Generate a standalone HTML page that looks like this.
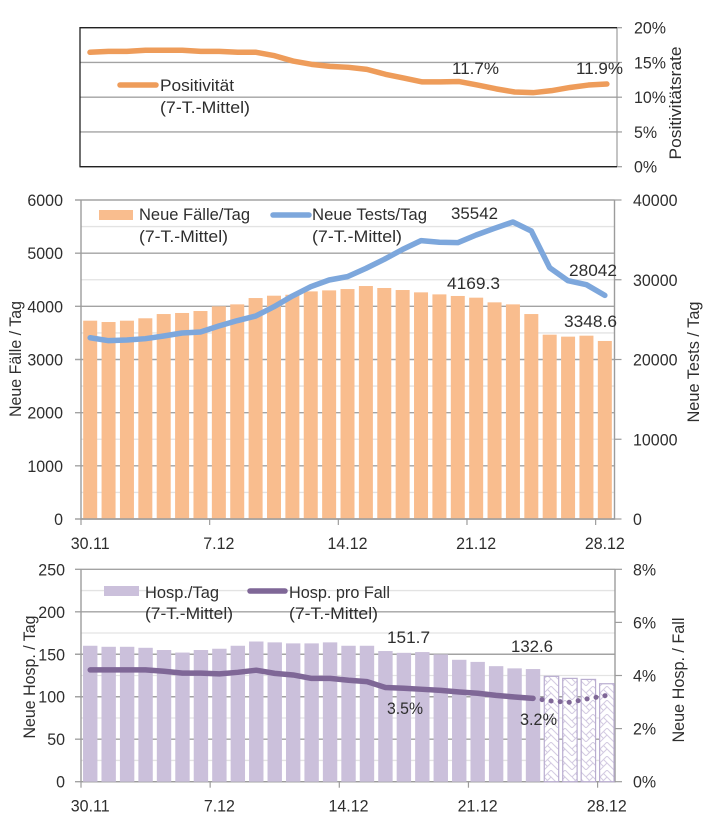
<!DOCTYPE html>
<html lang="de">
<head>
<meta charset="utf-8">
<title>Neue Fälle, Tests und Hospitalisierungen</title>
<style>
html,body{margin:0;padding:0;background:#fff;width:709px;height:833px;overflow:hidden}
#figure{display:block;filter:blur(0.35px)}
text{font-family:"Liberation Sans",sans-serif;font-size:17px;fill:#2e2e2e}
</style>
</head>
<body>
<svg id="figure" xmlns="http://www.w3.org/2000/svg" width="709" height="833" viewBox="0 0 709 833">
  <defs>
    <pattern id="hatch" patternUnits="userSpaceOnUse" x="544" y="672" width="14" height="14">
      <rect width="14" height="14" fill="#fff"/>
      <path d="M0 7L7 0L14 7M0 14L7 7L14 14M3.5 3.5L10.5 10.5M-3.5 3.5L3.5 10.5" fill="none" stroke="#d3cbe2" stroke-width="1"/>
    </pattern>
  </defs>
  <g id="top-chart"></g>
  <g id="mid-chart"></g>
  <g id="bot-chart"></g>

  <g id="annotations">
    <!-- top chart -->
    <text transform="translate(681 103) rotate(-90)" text-anchor="middle" textLength="113" lengthAdjust="spacingAndGlyphs">Positivitätsrate</text>
    <line x1="120" y1="85" x2="156" y2="85" stroke="#EE9C5A" stroke-width="5.5" stroke-linecap="round"/>
    <text x="160" y="91" textLength="74" lengthAdjust="spacingAndGlyphs">Positivität</text>
    <text x="160" y="113" textLength="90" lengthAdjust="spacingAndGlyphs">(7-T.-Mittel)</text>
    <text x="452" y="74" textLength="47" lengthAdjust="spacingAndGlyphs">11.7%</text>
    <text x="576" y="74" textLength="47" lengthAdjust="spacingAndGlyphs">11.9%</text>

    <!-- middle chart -->
    <text transform="translate(21 359) rotate(-90)" text-anchor="middle" textLength="116" lengthAdjust="spacingAndGlyphs">Neue Fälle / Tag</text>
    <text transform="translate(699 362) rotate(-90)" text-anchor="middle" textLength="121" lengthAdjust="spacingAndGlyphs">Neue Tests / Tag</text>
    <rect x="99" y="210" width="34" height="10" fill="#F9BD8E"/>
    <text x="139" y="220" textLength="111" lengthAdjust="spacingAndGlyphs">Neue Fälle/Tag</text>
    <text x="139" y="242" textLength="89" lengthAdjust="spacingAndGlyphs">(7-T.-Mittel)</text>
    <line x1="273" y1="215" x2="309" y2="215" stroke="#7DA7DC" stroke-width="5.5" stroke-linecap="round"/>
    <text x="312" y="220" textLength="115" lengthAdjust="spacingAndGlyphs">Neue Tests/Tag</text>
    <text x="312" y="242" textLength="90" lengthAdjust="spacingAndGlyphs">(7-T.-Mittel)</text>
    <text x="451" y="219" textLength="47" lengthAdjust="spacingAndGlyphs">35542</text>
    <text x="447" y="289" textLength="53" lengthAdjust="spacingAndGlyphs">4169.3</text>
    <text x="569" y="276" textLength="48" lengthAdjust="spacingAndGlyphs">28042</text>
    <text x="564" y="327" textLength="53" lengthAdjust="spacingAndGlyphs">3348.6</text>

    <!-- bottom chart -->
    <text transform="translate(35 677) rotate(-90)" text-anchor="middle" textLength="123" lengthAdjust="spacingAndGlyphs">Neue Hosp. / Tag</text>
    <text transform="translate(684 680) rotate(-90)" text-anchor="middle" textLength="125" lengthAdjust="spacingAndGlyphs">Neue Hosp. / Fall</text>
    <rect x="104" y="586" width="35" height="10" fill="#CBC0DB"/>
    <text x="145" y="598" textLength="74" lengthAdjust="spacingAndGlyphs">Hosp./Tag</text>
    <text x="145" y="619" textLength="88" lengthAdjust="spacingAndGlyphs">(7-T.-Mittel)</text>
    <line x1="250" y1="591" x2="285" y2="591" stroke="#7F6797" stroke-width="5.5" stroke-linecap="round"/>
    <text x="289" y="598" textLength="101" lengthAdjust="spacingAndGlyphs">Hosp. pro Fall</text>
    <text x="289" y="619" textLength="89" lengthAdjust="spacingAndGlyphs">(7-T.-Mittel)</text>
    <text x="387" y="643" textLength="43" lengthAdjust="spacingAndGlyphs">151.7</text>
    <text x="511" y="652" textLength="42" lengthAdjust="spacingAndGlyphs">132.6</text>
    <text x="387" y="714" textLength="36" lengthAdjust="spacingAndGlyphs">3.5%</text>
    <text x="520" y="725" textLength="37" lengthAdjust="spacingAndGlyphs">3.2%</text>
  </g>
</svg>
<script>
// ---- data ----
const dates = ['30.11','1.12','2.12','3.12','4.12','5.12','6.12','7.12','8.12','9.12','10.12','11.12','12.12','13.12','14.12','15.12','16.12','17.12','18.12','19.12','20.12','21.12','22.12','23.12','24.12','25.12','26.12','27.12','28.12'];
const dateTicks = ['30.11','7.12','14.12','21.12','28.12'];

const positivity = [16.46,16.6,16.6,16.75,16.75,16.75,16.6,16.6,16.46,16.46,15.97,15.2,14.73,14.44,14.3,14.0,13.3,12.76,12.2,12.2,12.25,11.75,11.2,10.75,10.65,10.94,11.4,11.75,11.9];
const positivityTicks = [0,5,10,15,20];

const cases = [3730,3705,3730,3775,3855,3875,3912,4000,4037,4156,4200,4218,4281,4300,4325,4382,4345,4307,4263,4225,4195,4163,4075,4037,3855,3467,3430,3448,3348.6];
const tests = [22730,22360,22440,22610,22950,23320,23450,24200,24870,25450,26620,27960,29130,29970,30390,31430,32560,33810,34900,34700,34650,35610,36450,37240,36110,31510,29880,29380,28042];
const casesTicks = [0,1000,2000,3000,4000,5000,6000];
const casesMinorTicks = [500,1500,2500,3500,4500,5500];
const testsTicks = [0,10000,20000,30000,40000];

const hospitalisations = [160,158.8,158.8,157.6,155,152,155,156.5,160,165,164,162.8,162.8,164,160,160,153.8,151.7,152.6,149.8,143.5,141,136,133.4,132.6,124,121.6,120.4,115.3];
const hospRate = [4.21,4.21,4.21,4.21,4.16,4.09,4.09,4.06,4.12,4.2,4.08,4.02,3.89,3.89,3.82,3.77,3.55,3.52,3.48,3.44,3.38,3.33,3.25,3.19,3.14,3.04,2.99,3.13,3.25];
const hospTicks = [0,50,100,150,200,250];
const hospMinorTicks = [25,75,125,175,225];
const rateTicks = [0,2,4,6,8];
const provisionalFrom = 25;

// ---- helpers ----
const NS = 'http://www.w3.org/2000/svg';
function mk(tag, attrs, parent) {
  const el = document.createElementNS(NS, tag);
  for (const k in attrs) el.setAttribute(k, attrs[k]);
  parent.appendChild(el);
  return el;
}
function linear(d0, d1, r0, r1) {
  return v => r0 + (v - d0) / (d1 - d0) * (r1 - r0);
}
function linePath(values, x, y, from, to) {
  let d = '';
  for (let i = from; i <= to; i++) d += (i === from ? 'M' : 'L') + x(i).toFixed(2) + ' ' + y(values[i]).toFixed(2);
  return d;
}
const GRID = '#a3a3a3', MINOR = '#e3e3e3', AXIS = '#9c9c9c';

// ---- top chart ----
(function () {
  const g = document.getElementById('top-chart');
  const L = 80, R = 617, T = 27.7, B = 166.7;
  const x = i => 90 + i * 18.46;
  const y = linear(0, 20, B, T);
  positivityTicks.forEach(t => {
    const gl = mk('line', {x1: L, x2: R, y1: y(t), y2: y(t), stroke: GRID, 'stroke-width': 1.4}, g);
    
    
    const tk = mk('line', {x1: R, x2: R + 5, y1: y(t), y2: y(t), stroke: AXIS, 'stroke-width': 1.2}, g);
    
    
    const lb = mk('text', {x: 634, y: y(t) + 6}, g);
    lb.textContent = t + '%';
    
    
  });
  const ra = mk('line', {x1: R, x2: R, y1: T, y2: B, stroke: AXIS, 'stroke-width': 1.2}, g);
  
  
  const frame = mk('path', {d: `M${R} ${T}H${L}V${B}H${R}`, fill: 'none', stroke: '#222', 'stroke-width': 1.3}, g);
  
  
  const ln = mk('path', {d: linePath(positivity, x, y, 0, positivity.length - 1), fill: 'none', stroke: '#EE9C5A', 'stroke-width': 5.5, 'stroke-linecap': 'round', 'stroke-linejoin': 'round'}, g);
  
  
})();

// ---- shared x axis ----
function drawXAxis(g, L, B, band, name) {
  dateTicks.forEach(t => {
    const i = dates.indexOf(t);
    const tx = L + i * band;
    const tk = mk('line', {x1: tx, x2: tx, y1: B, y2: B + 6, stroke: AXIS, 'stroke-width': 1.2}, g);
    
    
    const lb = mk('text', {x: tx + band / 2, y: B + 30, 'text-anchor': 'middle'}, g);
    lb.textContent = t;
    
    
  });
}

// ---- middle chart ----
(function () {
  const g = document.getElementById('mid-chart');
  const L = 81, R = 614.5, T = 200, B = 519;
  const band = 18.38;
  const xc = i => L + band * (i + 0.5);
  const yL = linear(0, 6000, B, T);
  const yR = linear(0, 40000, B, T);
  casesMinorTicks.forEach(t => {
    const gl = mk('line', {x1: L, x2: R, y1: yL(t), y2: yL(t), stroke: MINOR, 'stroke-width': 1.3}, g);
    
    
  });
  casesTicks.forEach(t => {
    const gl = mk('line', {x1: L - 6, x2: R, y1: yL(t), y2: yL(t), stroke: GRID, 'stroke-width': 1.4}, g);
    
    
    const lb = mk('text', {x: 63, y: yL(t) + 6, 'text-anchor': 'end'}, g);
    lb.textContent = t;
    
    
  });
  testsTicks.forEach(t => {
    const tk = mk('line', {x1: R, x2: R + 7, y1: yR(t), y2: yR(t), stroke: AXIS, 'stroke-width': 1.2}, g);
    
    
    const lb = mk('text', {x: 633, y: yR(t) + 6}, g);
    lb.textContent = t;
    
    
  });
  cases.forEach((v, i) => {
    const bar = mk('rect', {x: xc(i) - 7, y: yL(v), width: 14, height: B - yL(v), fill: '#F9BD8E'}, g);
    
    
  });
  const axes = mk('path', {d: `M${L} ${T}V${B}H${R}V${T}`, fill: 'none', stroke: AXIS, 'stroke-width': 1.4}, g);
  
  
  drawXAxis(g, L, B, band, 'cases');
  const ln = mk('path', {d: linePath(tests, xc, yR, 0, tests.length - 1), fill: 'none', stroke: '#7DA7DC', 'stroke-width': 5.5, 'stroke-linecap': 'round', 'stroke-linejoin': 'round'}, g);
  
  
})();

// ---- bottom chart ----
(function () {
  const g = document.getElementById('bot-chart');
  const L = 81, R = 615, T = 569.3, B = 781.7;
  const band = 18.45;
  const xc = i => L + band * (i + 0.5);
  const yL = linear(0, 250, B, T);
  const yR = linear(0, 8, B, T);
  hospMinorTicks.forEach(t => {
    const gl = mk('line', {x1: L, x2: R, y1: yL(t), y2: yL(t), stroke: MINOR, 'stroke-width': 1.3}, g);
    
    
  });
  hospTicks.forEach(t => {
    const gl = mk('line', {x1: L - 6, x2: R, y1: yL(t), y2: yL(t), stroke: GRID, 'stroke-width': 1.4}, g);
    
    
    const lb = mk('text', {x: 65, y: yL(t) + 6, 'text-anchor': 'end'}, g);
    lb.textContent = t;
    
    
  });
  rateTicks.forEach(t => {
    const tk = mk('line', {x1: R, x2: R + 7, y1: yR(t), y2: yR(t), stroke: AXIS, 'stroke-width': 1.2}, g);
    
    
    const lb = mk('text', {x: 633, y: yR(t) + 6}, g);
    lb.textContent = t + '%';
    
    
  });
  const axes = mk('path', {d: `M${L} ${T}V${B}H${R}V${T}`, fill: 'none', stroke: AXIS, 'stroke-width': 1.4}, g);
  
  
  hospitalisations.forEach((v, i) => {
    const prov = i >= provisionalFrom;
    const bar = mk('rect', {
      x: xc(i) - 7.2, y: yL(v), width: 14.4, height: B - yL(v),
      fill: prov ? 'url(#hatch)' : '#CBC0DB',
      stroke: prov ? '#b9add0' : 'none',
      'stroke-width': prov ? 1.2 : 0
    }, g);
    
    
  });
  drawXAxis(g, L, B, band, 'hosp');
  const solid = mk('path', {d: linePath(hospRate, xc, yR, 0, provisionalFrom - 1), fill: 'none', stroke: '#7F6797', 'stroke-width': 5.5, 'stroke-linecap': 'round', 'stroke-linejoin': 'round'}, g);
  
  
  const dotted = mk('path', {d: linePath(hospRate, xc, yR, provisionalFrom - 1, hospRate.length - 1), fill: 'none', stroke: '#7F6797', 'stroke-width': 5, 'stroke-linecap': 'round', 'stroke-dasharray': '0.1 9'}, g);
  
  
})();

// keep static labels above the marks
const figure = document.getElementById('figure');
figure.appendChild(document.getElementById('annotations'));

// tick labels: taller glyphs at the narrower width of the original typeface
figure.querySelectorAll('text:not([textLength])').forEach(t => {
  const w = t.getComputedTextLength() * 16 / 17;
  t.setAttribute('textLength', w.toFixed(1));
  t.setAttribute('lengthAdjust', 'spacingAndGlyphs');
});
</script>
</body>
</html>
